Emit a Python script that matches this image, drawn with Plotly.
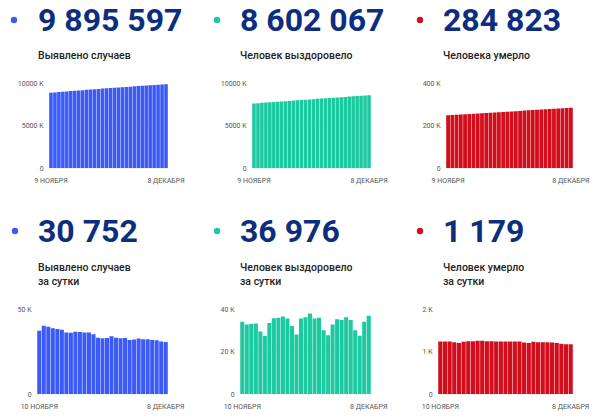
import plotly.graph_objects as go

# ---------------- data ----------------
dates = ["9 НОЯБРЯ", "10 НОЯБРЯ", "11 НОЯБРЯ", "12 НОЯБРЯ", "13 НОЯБРЯ", "14 НОЯБРЯ",
         "15 НОЯБРЯ", "16 НОЯБРЯ", "17 НОЯБРЯ", "18 НОЯБРЯ", "19 НОЯБРЯ", "20 НОЯБРЯ",
         "21 НОЯБРЯ", "22 НОЯБРЯ", "23 НОЯБРЯ", "24 НОЯБРЯ", "25 НОЯБРЯ", "26 НОЯБРЯ",
         "27 НОЯБРЯ", "28 НОЯБРЯ", "29 НОЯБРЯ", "30 НОЯБРЯ", "1 ДЕКАБРЯ", "2 ДЕКАБРЯ",
         "3 ДЕКАБРЯ", "4 ДЕКАБРЯ", "5 ДЕКАБРЯ", "6 ДЕКАБРЯ", "7 ДЕКАБРЯ", "8 ДЕКАБРЯ"]
daily_dates = dates[1:]

# cumulative, thousands
total_cases = [8888.8, 8926.2, 8966.5, 9006.2, 9045.0, 9083.4, 9121.4, 9157.8, 9194.0, 9230.8,
               9267.4, 9303.8, 9340.2, 9375.5, 9408.8, 9441.7, 9474.8, 9508.9, 9542.2, 9575.1,
               9608.2, 9640.2, 9672.4, 9705.2, 9737.6, 9770.0, 9802.0, 9833.8, 9864.8, 9895.6]
total_recovered = [7630.9, 7665.0, 7697.9, 7731.1, 7764.4, 7793.9, 7821.3, 7854.9, 7890.7, 7926.7,
                   7963.3, 7999.0, 8031.1, 8059.3, 8095.0, 8131.3, 8169.3, 8205.0, 8241.0, 8271.1,
                   8298.9, 8331.8, 8367.1, 8402.1, 8438.3, 8473.3, 8503.4, 8531.0, 8565.1, 8602.1]
total_deaths = [249.1, 250.4, 251.6, 252.9, 254.1, 255.3, 256.5, 257.8, 259.0, 260.3,
                261.5, 262.8, 264.0, 265.3, 266.5, 267.8, 269.0, 270.2, 271.5, 272.7,
                273.9, 275.1, 276.4, 277.6, 278.8, 280.0, 281.3, 282.4, 283.6, 284.8]

# daily, thousands
daily_cases = [37.4, 40.3, 39.7, 38.8, 38.4, 38.0, 36.4, 36.2, 36.8, 36.6, 36.4, 36.4, 35.3, 33.3,
               32.9, 33.1, 34.1, 33.3, 32.9, 33.1, 32.0, 32.2, 32.8, 32.4, 32.4, 32.0, 31.8, 31.0, 30.752]
daily_recovered = [34.1, 32.9, 33.2, 33.3, 29.5, 27.4, 33.6, 35.8, 36.0, 36.6, 35.7, 32.1, 28.2, 35.7,
                   36.3, 38.0, 35.7, 36.0, 30.1, 27.8, 32.9, 35.3, 35.0, 36.2, 35.0, 30.1, 27.6, 34.1, 36.976]
daily_deaths = [1.242, 1.242, 1.242, 1.226, 1.210, 1.234, 1.250, 1.250, 1.258, 1.258, 1.250, 1.250,
                1.242, 1.242, 1.242, 1.242, 1.242, 1.242, 1.218, 1.210, 1.234, 1.226, 1.226, 1.226,
                1.218, 1.210, 1.187, 1.179, 1.179]

big_numbers = ["9 895 597", "8 602 067", "284 823", "30 752", "36 976", "1 179"]
titles = ["Выявлено случаев", "Человек выздоровело", "Человека умерло",
          "Выявлено случаев<br>за сутки", "Человек выздоровело<br>за сутки", "Человек умерло<br>за сутки"]
y_ticks = [[0, 5000, 10000], [0, 5000, 10000], [0, 200, 400], [0, 50], [0, 20, 40], [0, 1, 2]]
y_ticktext = [["0", "5000 K", "10000 K"], ["0", "5000 K", "10000 K"], ["0", "200 K", "400 K"],
              ["0", "50 K"], ["0", "20 K", "40 K"], ["0", "1 K", "2 K"]]

# ---------------- style ----------------
W, H = 600, 417
BLUE, GREEN, RED = "#3c5bf6", "#1dc9a0", "#d20e1c"
NAVY = "#0d2e7e"
colors = [BLUE, GREEN, RED, BLUE, GREEN, RED]
series = [(dates, total_cases), (dates, total_recovered), (dates, total_deaths),
          (daily_dates, daily_cases), (daily_dates, daily_recovered), (daily_dates, daily_deaths)]

# pixel layout
plot_x = [(49, 168), (252, 371), (446, 573), (37, 168), (240, 371), (438, 573)]
plot_y = [(83.3, 168.3)] * 3 + [(309.3, 394.3)] * 3
dot_x = [14, 217, 420, 15, 217, 420]
num_x = [36, 238, 441, 36, 238, 441]
title_x = [36, 238, 441, 36, 238, 441]
num_y = [20, 20, 20, 231, 231, 231]
title_y = [55, 55, 55, 274.5, 274.5, 274.5]

def px(x):
    return x / W

def py(y):
    return 1 - y / H

fig = go.Figure()
layout = dict(width=W, height=H, margin=dict(l=0, r=0, t=0, b=0, pad=0, autoexpand=False),
              paper_bgcolor="white", plot_bgcolor="white", showlegend=False,
              bargap=0.1, font=dict(family="Roboto", color="#555"))
annotations = []
shapes = []

for i in range(6):
    n = i + 1
    xs, ys = series[i]
    fig.add_trace(go.Bar(x=xs, y=ys, marker=dict(color=colors[i], line=dict(width=0)),
                         xaxis=f"x{n}", yaxis=f"y{n}", hoverinfo="x+y"))
    layout[f"xaxis{n}"] = dict(
        domain=[px(plot_x[i][0]), px(plot_x[i][1])], anchor=f"y{n}", type="category",
        tickvals=[xs[0], xs[-1]], ticktext=[xs[0], xs[-1]], tickangle=0, automargin=False,
        showgrid=False, zeroline=False, showline=False,
        ticks="outside", ticklen=5, tickcolor="rgba(0,0,0,0)",
        tickfont=dict(size=7, color="#555", family="Roboto"), fixedrange=True)
    layout[f"yaxis{n}"] = dict(
        domain=[py(plot_y[i][1]), py(plot_y[i][0])], anchor=f"x{n}", automargin=False,
        range=[0, y_ticks[i][-1]], tickvals=y_ticks[i], ticktext=y_ticktext[i],
        showgrid=True, gridcolor="#ececec", gridwidth=1, zeroline=False, showline=False,
        ticks="outside", ticklen=3, tickcolor="rgba(0,0,0,0)",
        tickfont=dict(size=7, color="#555", family="Roboto"), layer="below traces",
        fixedrange=True)

    r = 3.2
    shapes.append(dict(type="circle", xref="paper", yref="paper",
                       x0=px(dot_x[i] - r), x1=px(dot_x[i] + r),
                       y0=py(num_y[i] + r), y1=py(num_y[i] - r),
                       fillcolor=colors[i], line=dict(width=0)))
    annotations.append(dict(text=f"<b>{big_numbers[i]}</b>", xref="paper", yref="paper",
                            x=px(num_x[i]), y=py(num_y[i]), xanchor="left", yanchor="middle",
                            showarrow=False,
                            font=dict(size=32, color=NAVY, family="Roboto")))
    annotations.append(dict(text=titles[i], xref="paper", yref="paper",
                            x=px(title_x[i]), y=py(title_y[i]), xanchor="left", yanchor="middle",
                            align="left", showarrow=False,
                            font=dict(size=10.5, color="#222", family="Roboto", weight=500)))

layout["annotations"] = annotations
layout["shapes"] = shapes
fig.update_layout(**layout)
fig.write_html("out.html")
